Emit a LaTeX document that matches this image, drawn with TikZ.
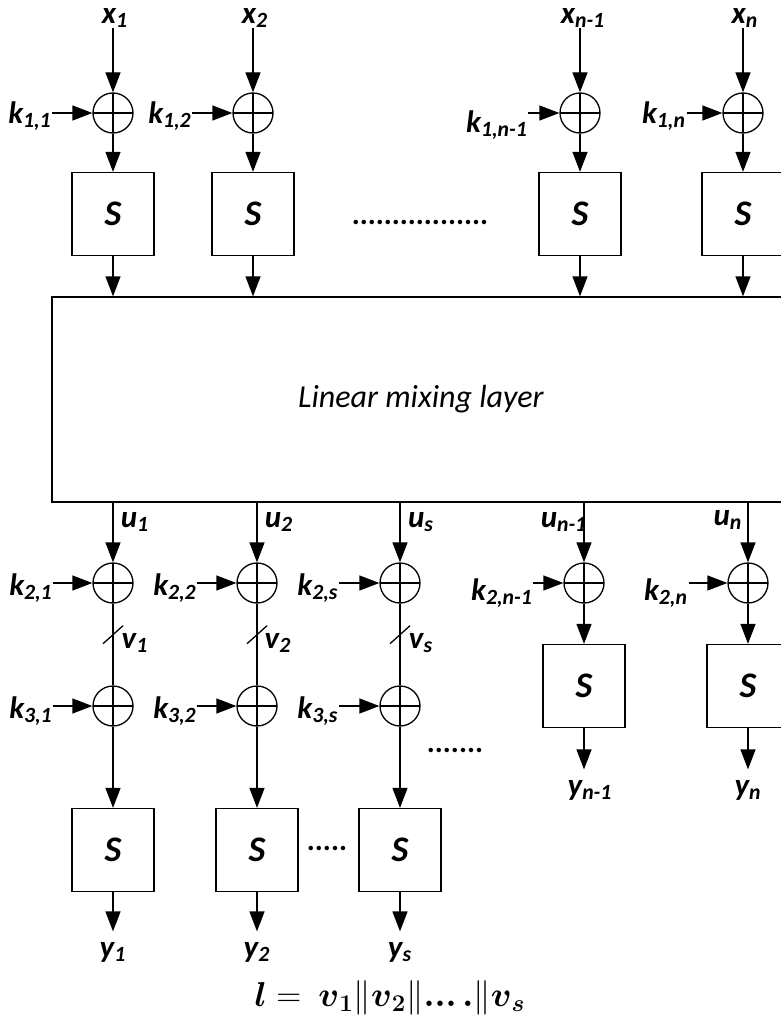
\documentclass[tikz,border=0pt]{standalone}
\usepackage{amsmath}
\usepackage{fontspec}
\setmainfont{Carlito}
\usetikzlibrary{arrows.meta, positioning, calc}
\newcommand{\sbs}[2]{#1\textsubscript{#2}}
\newcommand{\bv}[1]{\boldsymbol{v}_{\boldsymbol{#1}}}

\begin{document}
\begin{tikzpicture}[
  x=0.5pt, y=-0.5pt,
  line width=0.65pt,
  >={Triangle[length=10pt, width=7.5pt]},
  lbl/.style={inner sep=0pt, font=\fontsize{15.5}{18}\selectfont\bfseries\itshape},
  xor/.style={draw, circle, minimum size=20pt, inner sep=0pt,
    path picture={\draw (path picture bounding box.north) -- (path picture bounding box.south)
      (path picture bounding box.west) -- (path picture bounding box.east);}},
  sbox/.style={draw, rectangle, minimum width=41pt, minimum height=41.5pt, inner sep=0pt,
    font=\fontsize{18}{20}\selectfont\bfseries\itshape},
  dotrow/.style={inner sep=0pt, font=\fontsize{15}{18}\selectfont\bfseries}
]
\clip (0,0) rectangle (781,1022);
\node[font=\fontsize{16.5}{20}\selectfont] (eq) at (390,998) {$\boldsymbol{l} =\ \bv{1}\Vert\bv{2}\Vert\boldsymbol{...}\,\boldsymbol{.}\Vert\bv{s}$};

% first round: key addition and S-boxes
\node[lbl] (x1) at (115,18) {\sbs{x}{1}};
\node[xor] (a1) at (113,113) {};
\node[lbl] (k11) at (30,116) {\sbs{k}{1,1}};
\node[sbox] (s1) at (113,214) {S};

\node[lbl] (x2) at (255,18) {\sbs{x}{2}};
\node[xor] (a2) at (253,113) {};
\node[lbl] (k12) at (170,116) {\sbs{k}{1,2}};
\node[sbox] (s2) at (253,214) {S};

\node[dotrow] (dtop) at (420,222) {.................};

\node[lbl] (xn1) at (583,18) {\sbs{x}{n-1}};
\node[xor] (a3) at (580,113) {};
\node[lbl] (k1n1) at (497,125) {\sbs{k}{1,n-1}};
\node[sbox] (s3) at (580,214) {S};

\node[lbl] (xn) at (745,18) {\sbs{x}{n}};
\node[xor] (a4) at (743,113) {};
\node[lbl] (k1n) at (664,116) {\sbs{k}{1,n}};
\node[sbox] (s4) at (743,214) {S};

\node[draw, minimum width=369pt, minimum height=102.5pt, inner sep=0pt,
  font=\fontsize{16}{19}\selectfont\itshape] (mix) at (421,399.5) {Linear mixing layer};

\draw[->] (a1 |- x1.south) -- (a1);
\draw[->] (a2 |- x2.south) -- (a2);
\draw[->] (a3 |- xn1.south) -- (a3);
\draw[->] (a4 |- xn.south) -- (a4);
\draw[->] (k11.east |- a1.west) -- (a1.west);
\draw[->] (k12.east |- a2.west) -- (a2.west);
\draw[->] (k1n1.east |- a3.west) -- (a3.west);
\draw[->] (k1n.east |- a4.west) -- (a4.west);
\draw[->] (a1) -- (s1);
\draw[->] (a2) -- (s2);
\draw[->] (a3) -- (s3);
\draw[->] (a4) -- (s4);
\draw[->] (s1) -- (s1 |- mix.north);
\draw[->] (s2) -- (s2 |- mix.north);
\draw[->] (s3) -- (s3 |- mix.north);
\draw[->] (s4) -- (s4 |- mix.north);

% second round
\node[lbl] (u1) at (135,522) {\sbs{u}{1}};
\node[xor] (b1) at (113,583) {};
\node[lbl] (k21) at (31,588) {\sbs{k}{2,1}};
\node[lbl] (v1) at (135,643) {\sbs{v}{1}};
\node[xor] (c1) at (113,706) {};
\node[lbl] (k31) at (31,711) {\sbs{k}{3,1}};
\node[sbox] (t1) at (113,850) {S};
\node[lbl] (y1) at (113,952) {\sbs{y}{1}};

\node[lbl] (u2) at (279,522) {\sbs{u}{2}};
\node[xor] (b2) at (257,583) {};
\node[lbl] (k22) at (175,588) {\sbs{k}{2,2}};
\node[lbl] (v2) at (278,643) {\sbs{v}{2}};
\node[xor] (c2) at (257,706) {};
\node[lbl] (k32) at (175,711) {\sbs{k}{3,2}};
\node[sbox] (t2) at (257,850) {S};
\node[lbl] (y2) at (257,952) {\sbs{y}{2}};

\node[lbl] (us) at (421,522) {\sbs{u}{s}};
\node[xor] (b3) at (400,583) {};
\node[lbl] (k2s) at (318,588) {\sbs{k}{2,s}};
\node[lbl] (vs) at (421,643) {\sbs{v}{s}};
\node[xor] (c3) at (400,706) {};
\node[lbl] (k3s) at (318,711) {\sbs{k}{3,s}};
\node[sbox] (t3) at (400,850) {S};
\node[lbl] (ys) at (400,952) {\sbs{y}{s}};

\node[dotrow] (dmid) at (455,750) {.......};
\node[dotrow] (dlow) at (327,848) {.....};

\node[lbl] (un1) at (564,522) {\sbs{u}{n-1}};
\node[xor] (b4) at (584,583) {};
\node[lbl] (k2n1) at (502,593) {\sbs{k}{2,n-1}};
\node[sbox] (t4) at (584,686) {S};
\node[lbl] (yn1) at (590,790) {\sbs{y}{n-1}};

\node[lbl] (un) at (728,520) {\sbs{u}{n}};
\node[xor] (b5) at (748,583) {};
\node[lbl] (k2n) at (666,593) {\sbs{k}{2,n}};
\node[sbox] (t5) at (748,686) {S};
\node[lbl] (yn) at (748,790) {\sbs{y}{n}};

\draw[->] (mix.south -| b1) -- (b1);
\draw[->] (mix.south -| b2) -- (b2);
\draw[->] (mix.south -| b3) -- (b3);
\draw[->] (mix.south -| b4) -- (b4);
\draw[->] (mix.south -| b5) -- (b5);
\draw[->] (k21.east |- b1.west) -- (b1.west);
\draw[->] (k22.east |- b2.west) -- (b2.west);
\draw[->] (k2s.east |- b3.west) -- (b3.west);
\draw[->] (k2n1.east |- b4.west) -- (b4.west);
\draw[->] (k2n.east |- b5.west) -- (b5.west);
\draw (b1) -- (c1) coordinate[pos=0.38] (m1);
\draw (b2) -- (c2) coordinate[pos=0.38] (m2);
\draw (b3) -- (c3) coordinate[pos=0.38] (m3);
\draw ([shift={(-10,9)}]m1) -- ([shift={(10,-9)}]m1);
\draw ([shift={(-10,9)}]m2) -- ([shift={(10,-9)}]m2);
\draw ([shift={(-10,9)}]m3) -- ([shift={(10,-9)}]m3);
\draw[->] (k31.east |- c1.west) -- (c1.west);
\draw[->] (k32.east |- c2.west) -- (c2.west);
\draw[->] (k3s.east |- c3.west) -- (c3.west);
\draw[->] (c1) -- (t1);
\draw[->] (c2) -- (t2);
\draw[->] (c3) -- (t3);
\draw[->] (b4) -- (t4);
\draw[->] (b5) -- (t5);
\draw[->, shorten >=5pt] (t1) -- (t1.south |- y1.north);
\draw[->, shorten >=5pt] (t2) -- (t2.south |- y2.north);
\draw[->, shorten >=5pt] (t3) -- (t3.south |- ys.north);
\draw[->, shorten >=5pt] (t4) -- (t4.south |- yn1.north);
\draw[->, shorten >=5pt] (t5) -- (t5.south |- yn.north);
\end{tikzpicture}
\end{document}
